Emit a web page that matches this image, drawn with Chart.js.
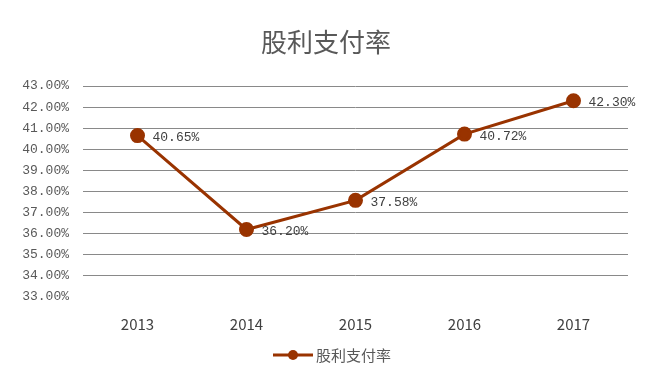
<!DOCTYPE html>
<html>
<head>
<meta charset="utf-8">
<script src="https://cdn.jsdelivr.net/npm/chart.js@4/dist/chart.umd.min.js"></script>
<style>
  html, body { margin: 0; padding: 0; background: #fff; }
  #wrap { width: 652px; height: 374px; }
</style>
</head>
<body>
<div id="wrap"><canvas id="payout"></canvas></div>
<script>
const years = ["2013", "2014", "2015", "2016", "2017"];
const payoutRatio = [40.65, 36.20, 37.58, 40.72, 42.30];
const seriesName = "股利支付率";
const yMin = 33;
const yMax = 43;

const colLine = "#993300";
const colText = "#595959";
const colGrid = "#898989";
const monoFont = "'Liberation Mono', monospace";
const cjkFont = "'Noto Sans CJK SC', 'Noto Sans', sans-serif";

// title, value labels and legend are drawn by hand
const extras = {
	id: "extras",
	afterDatasetsDraw(chart) {
		const ctx = chart.ctx;
		const meta = chart.getDatasetMeta(0);
		ctx.save();
		ctx.fillStyle = "#404040";
		ctx.font = "13px " + monoFont;
		ctx.textAlign = "left";
		ctx.textBaseline = "middle";
		meta.data.forEach((pt, i) => {
			ctx.fillText(payoutRatio[i].toFixed(2) + "%", pt.x + 15, pt.y + 2);
		});

		ctx.fillStyle = colText;
		ctx.font = "26px " + cjkFont;
		ctx.textAlign = "center";
		ctx.fillText(seriesName, chart.width / 2, 42);

		// legend
		const ly = 355;
		ctx.strokeStyle = colLine;
		ctx.lineWidth = 3;
		ctx.beginPath();
		ctx.moveTo(273, ly);
		ctx.lineTo(313, ly);
		ctx.stroke();
		ctx.fillStyle = colLine;
		ctx.beginPath();
		ctx.arc(293, ly, 5, 0, Math.PI * 2);
		ctx.fill();
		ctx.fillStyle = colText;
		ctx.font = "15px " + cjkFont;
		ctx.textAlign = "left";
		ctx.fillText(seriesName, 316, ly);
		ctx.restore();
	},
};

new Chart(document.getElementById("payout"), {
	type: "line",
	data: {
		labels: years,
		datasets: [
			{
				label: seriesName,
				data: payoutRatio,
				borderColor: colLine,
				backgroundColor: colLine,
				borderWidth: 3,
				pointRadius: 6,
				pointHoverRadius: 6,
				pointBackgroundColor: colLine,
				tension: 0,
			},
		],
	},
	options: {
		responsive: true,
		maintainAspectRatio: false,
		animation: false,
		layout: {
			padding: { top: 86, right: 24, bottom: 0, left: 0 },
		},
		plugins: {
			legend: { display: false },
			title: { display: false },
			tooltip: { enabled: false },
		},
		scales: {
			x: {
				offset: true,
				afterFit(scale) {
					scale.height = 77;
				},
				grid: {
					display: false,
					drawTicks: false,
				},
				border: { display: false },
				ticks: {
					padding: 18,
					color: "#404040",
					font: { family: cjkFont, size: 15 },
				},
			},
			y: {
				min: yMin,
				max: yMax,
				afterFit(scale) {
					scale.width = 83;
				},
				grid: {
					color: (c) => (c.tick && c.tick.value === yMin ? "rgba(0,0,0,0)" : colGrid),
					lineWidth: 1,
					drawTicks: false,
				},
				border: { display: false },
				ticks: {
					stepSize: 1,
					padding: 14,
					color: colText,
					font: { family: monoFont, size: 13 },
					callback: (v) => v.toFixed(2) + "%",
				},
			},
		},
	},
	plugins: [extras],
});
</script>
</body>
</html>
